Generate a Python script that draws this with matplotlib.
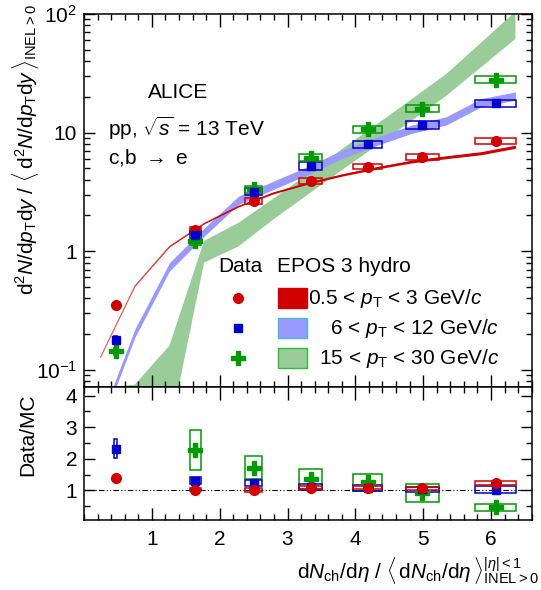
import numpy as np
import matplotlib
matplotlib.use('Agg')
import matplotlib.pyplot as plt
from matplotlib.patches import Rectangle
from matplotlib.lines import Line2D
from matplotlib.ticker import FixedLocator, MultipleLocator, LogLocator, NullFormatter, FuncFormatter

plt.rcParams['font.family'] = ['Liberation Sans', 'DejaVu Sans']
plt.rcParams['mathtext.fontset'] = 'custom'
plt.rcParams['mathtext.rm'] = 'Liberation Sans'
plt.rcParams['mathtext.it'] = 'Liberation Sans:italic'
plt.rcParams['mathtext.bf'] = 'Liberation Sans:bold'
plt.rcParams['font.size'] = 15

# ---- data: self-normalised yields vs multiplicity ----
mult = np.array([0.47, 1.64, 2.50, 3.34, 4.18, 4.99, 6.07])

yield_low = np.array([0.35, 1.51, 2.65, 3.91, 5.17, 6.23, 8.51])      # 0.5 < pT < 3
yield_mid = np.array([0.18, 1.38, 3.18, 5.23, 7.98, 11.6, 17.7])      # 6 < pT < 12
yield_high = np.array([0.143, 1.22, 3.32, 6.16, 10.7, 15.9, 27.9])    # 15 < pT < 30

stat_low = np.array([0.03, 0.05, 0.05, 0.06, 0.08, 0.10, 0.15])
stat_mid = np.array([0.01, 0.05, 0.10, 0.15, 0.20, 0.30, 0.50])
stat_high = np.array([0.015, 0.06, 0.15, 0.30, 0.60, 1.0, 2.0])

syst_rel_low = 0.05
syst_rel_mid = 0.07
syst_rel_high = 0.07

# ---- EPOS 3 hydro ----
mult_epos = np.array([0.24, 0.75, 1.26, 1.77, 2.28, 2.79, 3.30, 3.81, 4.32, 4.83, 5.34, 5.85, 6.36])
epos_low = np.array([0.127, 0.51, 1.10, 1.72, 2.4, 3.1, 3.75, 4.4, 5.05, 5.7, 6.2, 6.7, 7.6])
epos_mid = np.array([0.035, 0.204, 0.74, 1.45, 2.7, 3.6, 4.8, 6.6, 8.5, 10.7, 12.6, 17.9, 20.4])
epos_high_up = np.array([0.07, 0.075, 0.16, 1.22, 1.74, 2.77, 4.48, 7.3, 11.8, 19.1, 31.2, 57, 105])
epos_high_lo = np.array([0.001, 0.01, 0.03, 0.80, 1.10, 1.85, 3.0, 4.86, 7.8, 12.6, 20.4, 35.5, 61.6])
epos_mid_rel = 0.08
epos_low_rel = np.array([0.005, 0.008, 0.01, 0.012, 0.015, 0.018, 0.02, 0.022, 0.024, 0.026, 0.028, 0.03, 0.03])

# ---- Data/MC ----
ratio_low = np.array([1.40, 1.02, 1.00, 1.08, 1.08, 1.06, 1.22])
ratio_low_syst = np.array([0.03, 0.04, 0.06, 0.05, 0.05, 0.05, 0.06])
ratio_mid = np.array([2.32, 1.31, 1.23, 1.10, 1.07, 1.03, 1.02])
ratio_mid_syst = np.array([0.30, 0.11, 0.10, 0.10, 0.09, 0.08, 0.12])
ratio_high = np.array([np.nan, 2.28, 1.72, 1.36, 1.25, 0.92, 0.46])
ratio_high_syst = np.array([np.nan, 0.64, 0.37, 0.33, 0.26, 0.28, 0.12])

RED = '#d00000'
BLUE = '#0000cc'
GREEN = '#009900'
BLUE_BAND = '#9999ff'
GREEN_BAND = '#99cc99'

W, H = 541, 590
fig = plt.figure(figsize=(W / 100, H / 100), dpi=100)


def fx(px):
    return px / W


def fy(py):
    return 1 - py / H


ax1 = fig.add_axes([fx(84), fy(386.7), fx(531.7) - fx(84), fy(14) - fy(386.7)])
ax2 = fig.add_axes([fx(84), fy(520), fx(531.7) - fx(84), fy(386.7) - fy(520)], sharex=ax1)


def boxes(ax, x, y, dy_lo, dy_hi, color, z=4):
    for xi, yi, lo, hi in zip(x, y, dy_lo, dy_hi):
        if np.isnan(yi):
            continue
        w = 0.05 * xi
        ax.add_patch(Rectangle((xi - w, yi - lo), 2 * w, lo + hi, fill=False,
                               edgecolor=color, lw=1.1, zorder=z))


# upper panel
ax1.set_yscale('log')
ax1.fill_between(mult_epos, epos_high_lo, epos_high_up, color=GREEN_BAND, lw=0, zorder=1)
ax1.fill_between(mult_epos, epos_mid * (1 - epos_mid_rel), epos_mid * (1 + epos_mid_rel),
                 color=BLUE_BAND, lw=0, zorder=2)
ax1.fill_between(mult_epos, epos_low * (1 - epos_low_rel), epos_low * (1 + epos_low_rel),
                 color=RED, lw=0, zorder=3)
ax1.plot(mult_epos, epos_low, color=RED, lw=0.5, alpha=0.8, zorder=3)

boxes(ax1, mult, yield_low, yield_low * syst_rel_low, yield_low * syst_rel_low, RED)
boxes(ax1, mult, yield_mid, yield_mid * syst_rel_mid, yield_mid * syst_rel_mid, BLUE)
boxes(ax1, mult, yield_high, yield_high * syst_rel_high, yield_high * syst_rel_high, GREEN)

ax1.errorbar(mult, yield_low, yerr=stat_low, fmt='o', color=RED, ms=7, elinewidth=1.5, capsize=0, zorder=6)
ax1.errorbar(mult, yield_mid, yerr=stat_mid, fmt='s', color=BLUE, ms=5.5, elinewidth=1.5, capsize=0, zorder=6)
ax1.errorbar(mult, yield_high, yerr=stat_high, fmt='P', color=GREEN, ms=10, elinewidth=1.5, capsize=0, zorder=5)

ax1.set_xlim(0, 6.6)
ax1.set_ylim(0.072, 100)

tick_names = {0.1: r'$10^{-1}$', 1: '1', 10: '10', 100: r'$10^{2}$'}
ax1.yaxis.set_major_locator(FixedLocator([0.1, 1, 10, 100]))
ax1.yaxis.set_major_formatter(FuncFormatter(lambda v, p: tick_names.get(round(v, 3), '')))
ax1.yaxis.set_minor_locator(LogLocator(base=10, subs=np.arange(2, 10), numticks=20))
ax1.yaxis.set_minor_formatter(NullFormatter())

for ax in (ax1, ax2):
    ax.xaxis.set_major_locator(MultipleLocator(1))
    ax.xaxis.set_minor_locator(MultipleLocator(0.2))
    ax.tick_params(which='both', direction='in', top=True, right=True, width=1.0)
    ax.tick_params(axis='x', which='major', length=9)
    ax.tick_params(axis='x', which='minor', length=4.5)
    ax.tick_params(axis='y', which='major', length=8, pad=5)
    ax.tick_params(axis='y', which='minor', length=4)
    for s in ax.spines.values():
        s.set_linewidth(1.1)
ax1.tick_params(labelbottom=False)
ax2.tick_params(axis='x', pad=7)

# lower panel
ax2.axhline(1, color='black', lw=0.8, ls=(0, (5, 2, 1, 2, 1, 2)), zorder=1)
boxes(ax2, mult, ratio_high, ratio_high_syst, ratio_high_syst, GREEN)
boxes(ax2, mult, ratio_mid, ratio_mid_syst, ratio_mid_syst, BLUE)
boxes(ax2, mult, ratio_low, ratio_low_syst, ratio_low_syst, RED)
ax2.plot(mult, ratio_high, 'P', color=GREEN, ms=10, zorder=5)
ax2.plot(mult, ratio_mid, 's', color=BLUE, ms=5.5, zorder=6)
ax2.plot(mult, ratio_low, 'o', color=RED, ms=7, zorder=7)
ax2.set_ylim(0.06, 4.28)
ax2.yaxis.set_major_locator(MultipleLocator(1))
ax2.yaxis.set_minor_locator(MultipleLocator(0.5))
ax2.set_xticks([1, 2, 3, 4, 5, 6])

# axis titles
fig.text(fx(10), fy(4), r'$\mathrm{d}^{2}N/\mathrm{d}p_{\mathrm{T}}\mathrm{d}y\ /\ \langle\,\mathrm{d}^{2}N/\mathrm{d}p_{\mathrm{T}}\mathrm{d}y\,\rangle_{\mathrm{INEL>0}}$',
         rotation=90, ha='left', va='top')
fig.text(fx(18), fy(394), 'Data/MC', rotation=90, ha='left', va='top')
fig.text(fx(539), fy(578), r'$\mathrm{d}N_{\mathrm{ch}}/\mathrm{d}\eta\ /\ \langle\,\mathrm{d}N_{\mathrm{ch}}/\mathrm{d}\eta\,\rangle^{|\eta|<1}_{\mathrm{INEL>0}}$',
         ha='right', va='baseline')

# labels
fig.text(fx(178), fy(92), 'ALICE', ha='center', va='center')
fig.text(fx(108), fy(128), r'pp, $\sqrt{s}$ = 13 TeV', ha='left', va='center')
fig.text(fx(108), fy(158), r'c,b $\rightarrow$ e', ha='left', va='center')

# legend
fig.text(fx(218), fy(266), 'Data', ha='left', va='center')
fig.text(fx(277), fy(266), 'EPOS 3 hydro', ha='left', va='center')
leg_rows = [
    (298, 'o', RED, 7, RED, RED, r'0.5 < $p_{\mathrm{T}}$ < 3 GeV/$c$', 308),
    (328, 's', BLUE, 5.5, BLUE_BAND, '#44bbdd', r'6 < $p_{\mathrm{T}}$ < 12 GeV/$c$', 330),
    (358, 'P', GREEN, 10, GREEN_BAND, '#33bb33', r'15 < $p_{\mathrm{T}}$ < 30 GeV/$c$', 319),
]
for py, mk, mc, ms, fc, ec, label, tx in leg_rows:
    fig.add_artist(Line2D([fx(237.7)], [fy(py)], marker=mk, color=mc, ms=ms, ls='none',
                          transform=fig.transFigure))
    fig.add_artist(Rectangle((fx(277.7), fy(py + 10)), fx(29), 20 / H, facecolor=fc,
                             edgecolor=ec, lw=1.0, transform=fig.transFigure))
    fig.text(fx(tx), fy(py), label, ha='left', va='center')

fig.savefig('out.png', dpi=100)
